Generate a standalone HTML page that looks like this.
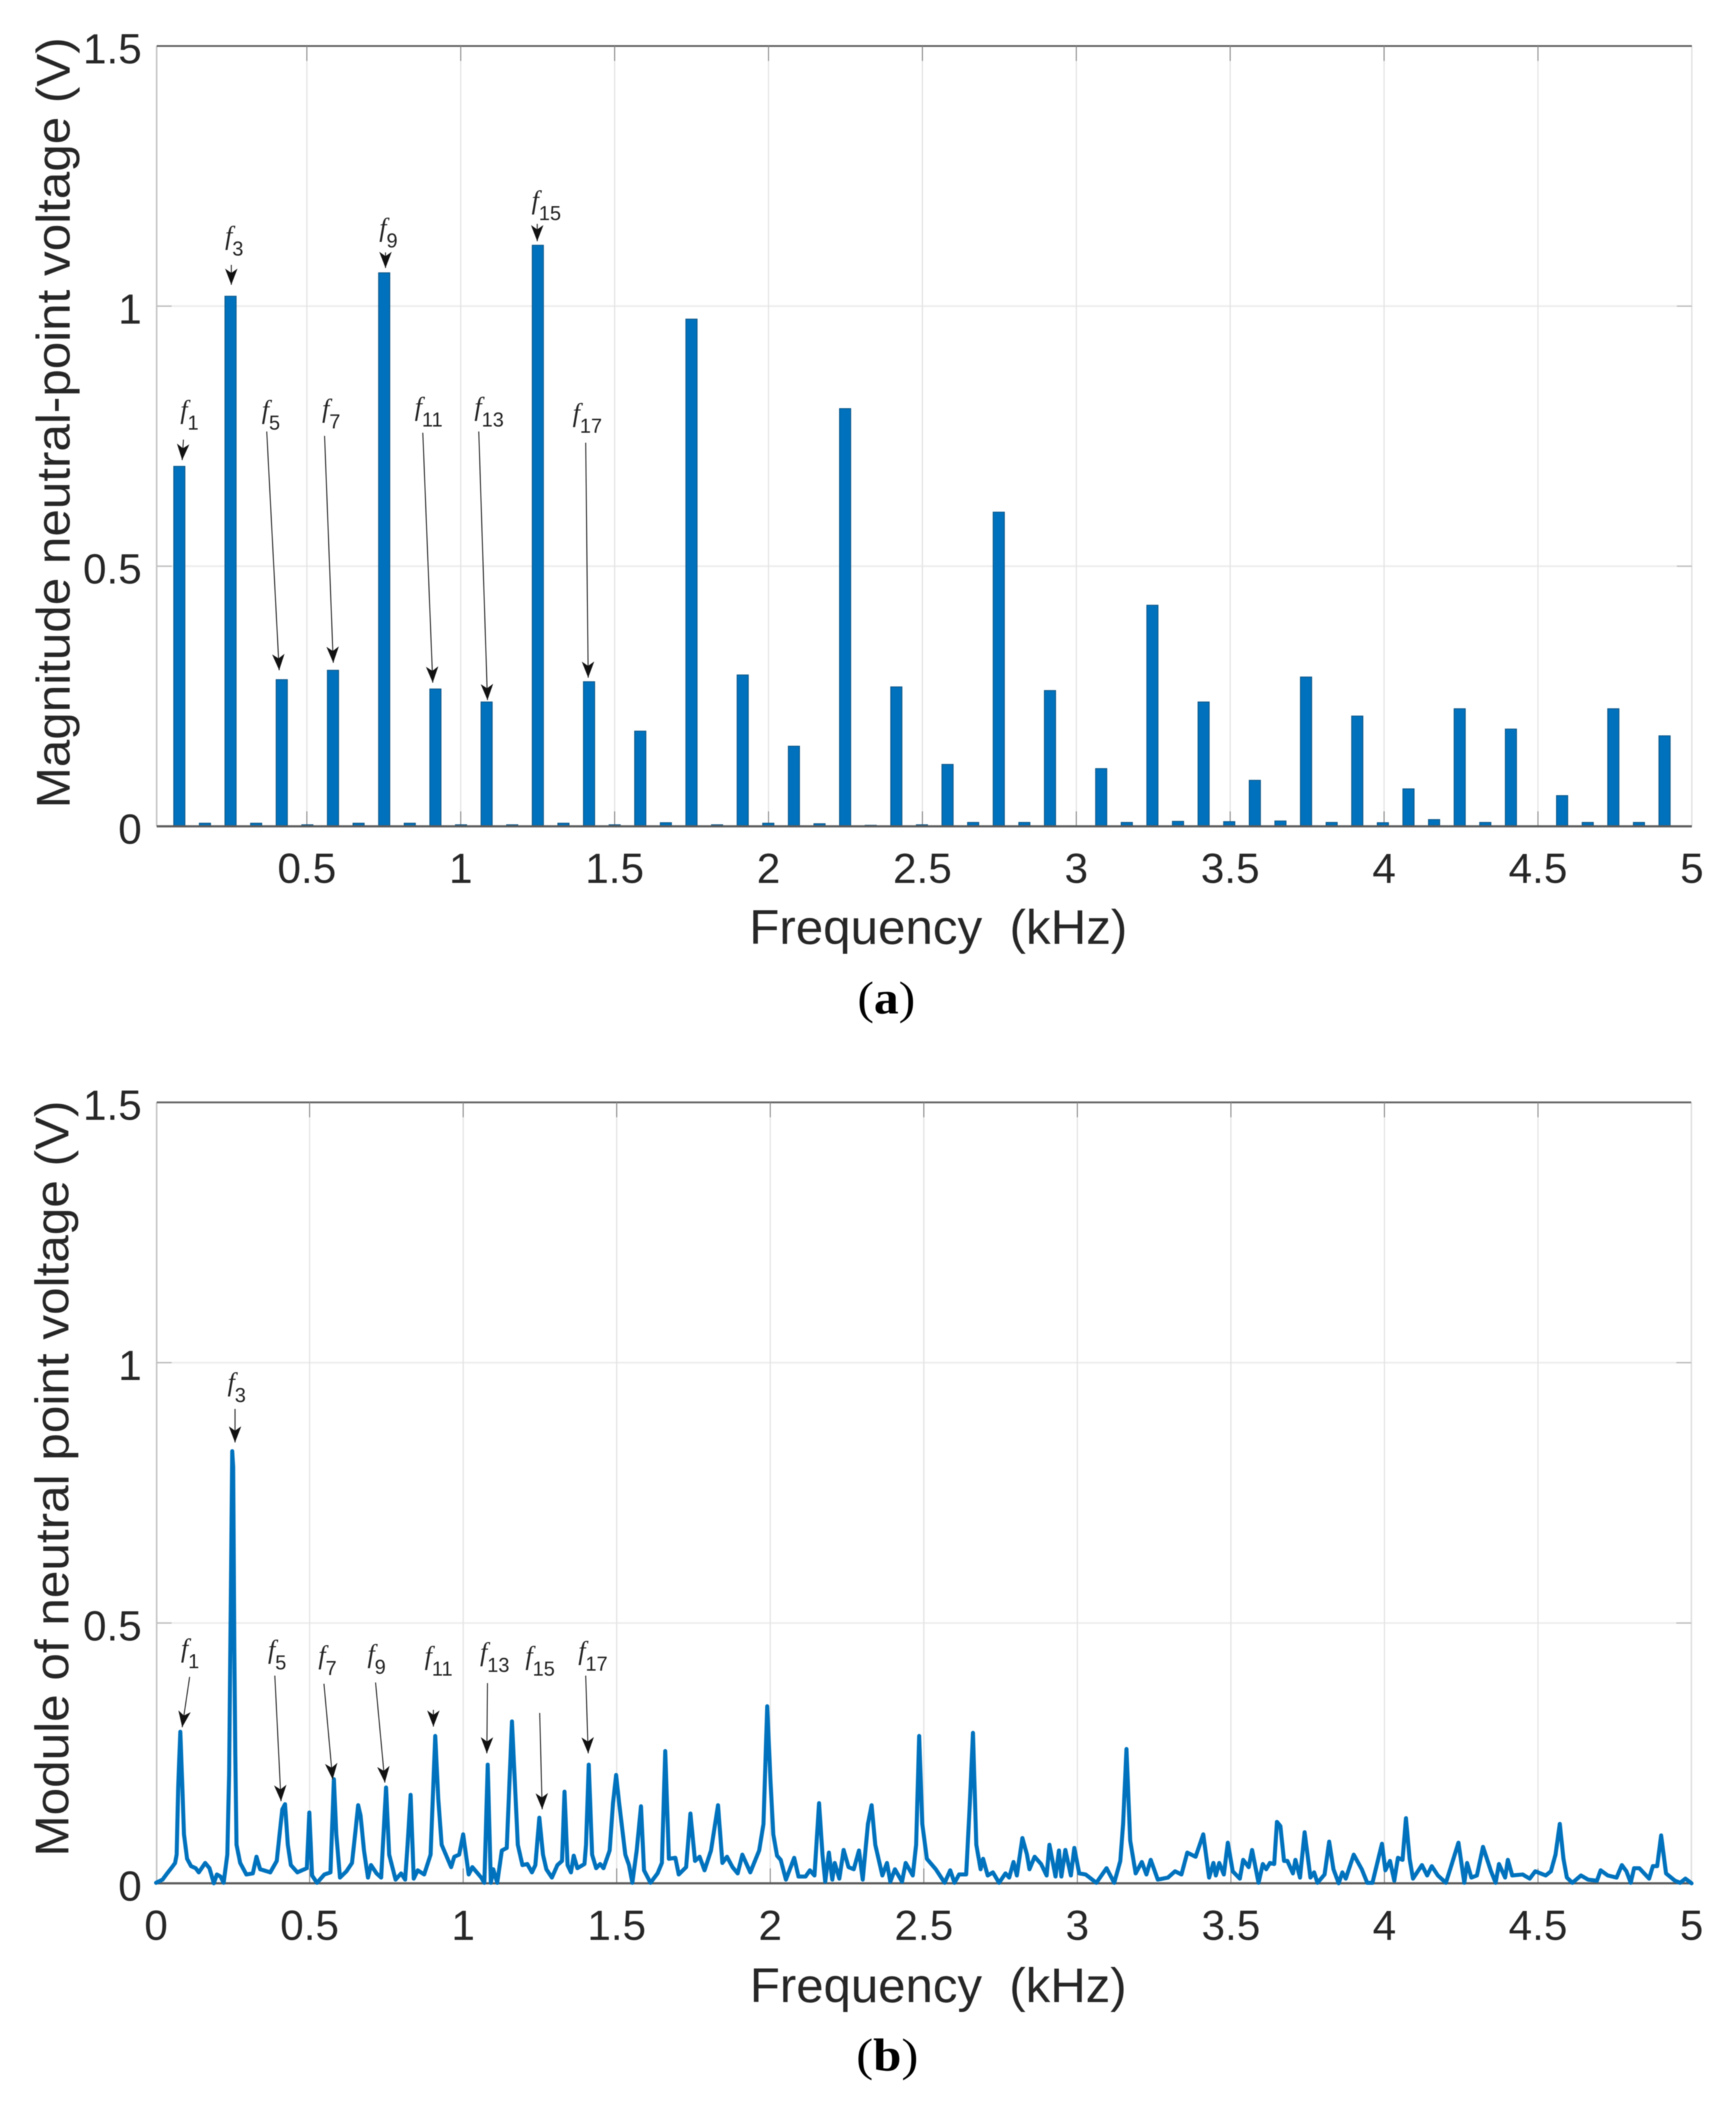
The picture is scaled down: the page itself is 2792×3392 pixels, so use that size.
<!DOCTYPE html>
<html lang="en">
<head>
<meta charset="utf-8">
<title>Neutral-point voltage spectra</title>
<style>
html,body{margin:0;padding:0;background:#fff;}
svg{display:block;filter:blur(0.7px);}
text{font-family:"Liberation Sans",sans-serif;fill:#262626;}
.ann{fill:#222;font-size:32px;}
.ann .ital{font-family:"Liberation Serif",serif;font-style:italic;font-size:42px;}
.arrow{stroke:#222;stroke-width:1.6;fill:none;}
.cap{font-family:"Liberation Serif",serif;fill:#000;font-size:74px;}
</style>
</head>
<body>
<svg id="fig" xmlns="http://www.w3.org/2000/svg" width="2792" height="3392" viewBox="0 0 2792 3392">
<defs>
<marker id="head" markerUnits="userSpaceOnUse" markerWidth="30" markerHeight="24" refX="26" refY="12" orient="auto">
<path d="M0,2 L26,12 L0,22 L7,12 Z" fill="#111"/>
</marker>
</defs>
<g id="chartA"></g>
<g id="chartB"></g>

<text transform="translate(112,680) rotate(-90)" text-anchor="middle" font-size="76" textLength="1240" lengthAdjust="spacingAndGlyphs">Magnitude neutral-point voltage (V)</text>
<text x="1509" y="1518" text-anchor="middle" font-size="78" textLength="608" lengthAdjust="spacingAndGlyphs">Frequency&#160;&#160;(kHz)</text>
<text class="cap" x="1379" y="1630" textLength="93" lengthAdjust="spacingAndGlyphs">(<tspan font-weight="bold">a</tspan>)</text>

<text transform="translate(110,2378) rotate(-90)" text-anchor="middle" font-size="76" textLength="1216" lengthAdjust="spacingAndGlyphs">Module of neutral point voltage (V)</text>
<text x="1509" y="3220" text-anchor="middle" font-size="78" textLength="606" lengthAdjust="spacingAndGlyphs">Frequency&#160;&#160;(kHz)</text>
<text class="cap" x="1377" y="3330" textLength="100" lengthAdjust="spacingAndGlyphs">(<tspan font-weight="bold">b</tspan>)</text>

<g>
<text class="ann" x="290" y="673"><tspan class="ital">f</tspan><tspan dy="18">1</tspan></text>
<line class="arrow" x1="295" y1="707" x2="293" y2="740" marker-end="url(#head)"/>
<text class="ann" x="362" y="393"><tspan class="ital">f</tspan><tspan dy="18">3</tspan></text>
<line class="arrow" x1="372" y1="426" x2="372" y2="458" marker-end="url(#head)"/>
<text class="ann" x="421" y="673"><tspan class="ital">f</tspan><tspan dy="18">5</tspan></text>
<line class="arrow" x1="429" y1="694" x2="449" y2="1078" marker-end="url(#head)"/>
<text class="ann" x="518" y="671"><tspan class="ital">f</tspan><tspan dy="18">7</tspan></text>
<line class="arrow" x1="522" y1="701" x2="536" y2="1066" marker-end="url(#head)"/>
<text class="ann" x="610" y="380"><tspan class="ital">f</tspan><tspan dy="18">9</tspan></text>
<line class="arrow" x1="620" y1="406" x2="620" y2="431" marker-end="url(#head)"/>
<text class="ann" x="667" y="668"><tspan class="ital">f</tspan><tspan dy="18">11</tspan></text>
<line class="arrow" x1="680" y1="696" x2="696" y2="1098" marker-end="url(#head)"/>
<text class="ann" x="763" y="668"><tspan class="ital">f</tspan><tspan dy="18">13</tspan></text>
<line class="arrow" x1="770" y1="694" x2="784" y2="1126" marker-end="url(#head)"/>
<text class="ann" x="855" y="336"><tspan class="ital">f</tspan><tspan dy="18">15</tspan></text>
<line class="arrow" x1="864" y1="360" x2="864" y2="388" marker-end="url(#head)"/>
<text class="ann" x="921" y="678"><tspan class="ital">f</tspan><tspan dy="18">17</tspan></text>
<line class="arrow" x1="942" y1="712" x2="946" y2="1090" marker-end="url(#head)"/>
</g>

<g>
<text class="ann" x="291" y="2665"><tspan class="ital">f</tspan><tspan dy="18">1</tspan></text>
<line class="arrow" x1="305" y1="2697" x2="293" y2="2778" marker-end="url(#head)"/>
<text class="ann" x="366" y="2237"><tspan class="ital">f</tspan><tspan dy="18">3</tspan></text>
<line class="arrow" x1="378" y1="2266" x2="378" y2="2320" marker-end="url(#head)"/>
<text class="ann" x="431" y="2667"><tspan class="ital">f</tspan><tspan dy="18">5</tspan></text>
<line class="arrow" x1="442" y1="2695" x2="452" y2="2897" marker-end="url(#head)"/>
<text class="ann" x="512" y="2676"><tspan class="ital">f</tspan><tspan dy="18">7</tspan></text>
<line class="arrow" x1="521" y1="2708" x2="535" y2="2862" marker-end="url(#head)"/>
<text class="ann" x="591" y="2674"><tspan class="ital">f</tspan><tspan dy="18">9</tspan></text>
<line class="arrow" x1="604" y1="2706" x2="619" y2="2867" marker-end="url(#head)"/>
<text class="ann" x="683" y="2677"><tspan class="ital">f</tspan><tspan dy="18">11</tspan></text>
<line class="arrow" x1="697" y1="2750" x2="697" y2="2777" marker-end="url(#head)"/>
<text class="ann" x="772" y="2671"><tspan class="ital">f</tspan><tspan dy="18">13</tspan></text>
<line class="arrow" x1="784" y1="2707" x2="783" y2="2820" marker-end="url(#head)"/>
<text class="ann" x="845" y="2677"><tspan class="ital">f</tspan><tspan dy="18">15</tspan></text>
<line class="arrow" x1="868" y1="2755" x2="872" y2="2910" marker-end="url(#head)"/>
<text class="ann" x="930" y="2669"><tspan class="ital">f</tspan><tspan dy="18">17</tspan></text>
<line class="arrow" x1="942" y1="2695" x2="946" y2="2820" marker-end="url(#head)"/>
</g>
</svg>
<script>
// Panel (a): harmonic order, spacing in kHz, magnitude in volts
const harmonicSpacingKHz = 0.0832;
const harmonicOffsetKHz = 0.0025;
const harmonicOrders = [1,2,3,4,5,6,7,8,9,10,11,12,13,14,15,16,17,18,19,20,21,22,23,24,25,26,27,28,29,30,31,32,33,34,35,36,37,38,39,40,41,42,43,44,45,46,47,48,49,50,51,52,53,54,55,56,57,58,59];
const barValues = [0.692,0.006,1.019,0.006,0.282,0.003,0.300,0.006,1.064,0.006,0.264,0.003,0.239,0.003,1.117,0.006,0.278,0.003,0.183,0.007,0.975,0.003,0.291,0.006,0.154,0.005,0.803,0.002,0.268,0.003,0.119,0.0075,0.604,0.0075,0.261,0.001,0.111,0.0075,0.425,0.0096,0.239,0.009,0.0885,0.0103,0.287,0.0075,0.212,0.007,0.072,0.013,0.226,0.0075,0.187,0.001,0.059,0.0075,0.226,0.0075,0.174];
const xTickValuesA = [0.5,1,1.5,2,2.5,3,3.5,4,4.5,5];
const xTickLabelsA = ["0.5","1","1.5","2","2.5","3","3.5","4","4.5","5"];
const yTickValues = [0,0.5,1,1.5];
const yTickLabels = ["0","0.5","1","1.5"];

// Panel (b): measured spectrum, frequency in kHz and voltage in volts
const lineFreq = [0,.021,.036,.052,.062,.067,.072,.079,.085,.091,.101,.114,.129,.139,.160,.174,.188,.198,.210,.220,.232,.238,.243,.248,.251,.255,.258,.262,.274,.294,.315,.327,.339,.372,.393,.403,.411,.420,.429,.439,.460,.491,.499,.508,.524,.548,.568,.579,.587,.599,.620,.638,.649,.658,.666,.677,.690,.700,.718,.733,.749,.759,.780,.798,.811,.819,.829,.839,.852,.873,.894,.909,.919,.930,.961,.971,.987,1.0,1.018,1.030,1.059,1.069,1.080,1.090,1.098,1.111,1.126,1.142,1.159,1.178,1.193,1.209,1.224,1.235,1.248,1.260,1.271,1.289,1.307,1.322,1.330,1.340,1.351,1.360,1.372,1.395,1.400,1.409,1.420,1.433,1.446,1.457,1.477,1.488,1.498,1.508,1.528,1.540,1.551,1.565,1.579,1.589,1.610,1.633,1.647,1.658,1.670,1.691,1.702,1.726,1.740,1.755,1.770,1.786,1.807,1.830,1.844,1.859,1.877,1.894,1.909,1.935,1.964,1.978,1.990,2.001,2.010,2.022,2.034,2.051,2.078,2.092,2.115,2.129,2.144,2.159,2.170,2.179,2.191,2.202,2.210,2.225,2.239,2.255,2.272,2.289,2.301,2.318,2.330,2.342,2.365,2.380,2.391,2.406,2.429,2.441,2.464,2.475,2.485,2.495,2.510,2.539,2.568,2.586,2.600,2.615,2.638,2.650,2.660,2.671,2.685,2.693,2.708,2.725,2.745,2.766,2.778,2.792,2.803,2.821,2.836,2.844,2.861,2.882,2.900,2.909,2.929,2.940,2.948,2.961,2.979,2.990,3.006,3.027,3.062,3.095,3.120,3.140,3.149,3.160,3.172,3.190,3.210,3.225,3.239,3.262,3.295,3.318,3.339,3.358,3.385,3.410,3.429,3.443,3.451,3.462,3.477,3.490,3.506,3.529,3.540,3.558,3.569,3.590,3.604,3.615,3.627,3.641,3.650,3.661,3.673,3.684,3.702,3.710,3.725,3.740,3.759,3.771,3.782,3.805,3.820,3.834,3.851,3.863,3.874,3.900,3.926,3.944,3.961,3.992,4.003,4.018,4.032,4.044,4.059,4.070,4.082,4.093,4.122,4.139,4.154,4.174,4.200,4.214,4.241,4.260,4.269,4.283,4.301,4.321,4.347,4.362,4.373,4.393,4.402,4.416,4.450,4.473,4.491,4.525,4.542,4.557,4.571,4.583,4.594,4.612,4.640,4.663,4.692,4.704,4.727,4.756,4.773,4.788,4.802,4.813,4.830,4.862,4.874,4.888,4.901,4.917,4.946,4.963,4.980,5.0];
const lineVolt = [.001,.007,.019,.031,.039,.055,.186,.291,.194,.094,.047,.033,.029,.021,.039,.029,0,.017,.013,.001,.055,.210,.52,.83,.80,.45,.25,.074,.039,.017,.019,.051,.027,.021,.043,.098,.142,.152,.074,.035,.021,.029,.136,.015,.001,.017,.021,.200,.094,.011,.023,.039,.098,.150,.130,.063,.011,.035,.019,.011,.184,.055,.007,.019,.007,.074,.170,.009,.025,.017,.055,.283,.162,.074,.031,.051,.055,.094,.017,.031,.011,.001,.228,.001,.027,.001,.063,.068,.311,.074,.035,.037,.021,.035,.126,.055,.027,.011,.035,.043,.176,.035,.021,.053,.029,.037,.074,.228,.055,.029,.037,.029,.063,.154,.208,.154,.055,.035,.001,.063,.148,.025,.001,.019,.039,.254,.047,.049,.017,.031,.134,.043,.051,.025,.063,.150,.039,.051,.031,.019,.055,.021,.063,.114,.340,.194,.094,.053,.045,.007,.049,.013,.013,.025,.015,.154,.055,.003,.059,.007,.039,.009,.064,.031,.027,.063,.007,.114,.150,.074,.015,.039,.003,.027,.003,.039,.015,.074,.283,.114,.047,.027,.001,.025,.001,.017,.017,.154,.289,.074,.027,.047,.015,.021,.001,.019,.011,.041,.015,.087,.055,.027,.051,.037,.015,.074,.013,.063,.013,.064,.015,.068,.019,.017,.001,.029,.001,.043,.114,.258,.082,.019,.041,.017,.045,.007,.011,.023,.017,.059,.051,.094,.011,.039,.015,.039,.017,.078,.023,.009,.045,.031,.064,.001,.037,.027,.039,.037,.118,.110,.043,.043,.019,.045,.011,.098,.011,.021,.001,.017,.080,.027,0,.021,.009,.055,.027,.001,.001,.076,.025,.043,.005,.049,.045,.125,.047,.009,.035,.015,.033,.015,.001,.027,.078,.001,.039,.011,.015,.070,.023,.001,.037,.011,.045,.015,.017,.009,.023,.015,.023,.055,.114,.047,.011,.001,.015,.007,.005,.025,.015,.011,.035,.023,.001,.029,.029,.009,.033,.033,.092,.019,.005,.001,.009,0];
const xTickValuesB = [0,0.5,1,1.5,2,2.5,3,3.5,4,4.5,5];
const xTickLabelsB = ["0","0.5","1","1.5","2","2.5","3","3.5","4","4.5","5"];

const SVG_NS = "http://www.w3.org/2000/svg";
function mk(tag, attrs, parent){
  const el = document.createElementNS(SVG_NS, tag);
  for (const k in attrs) el.setAttribute(k, attrs[k]);
  parent.appendChild(el);
  return el;
}

function drawFrame(group, box, xScale, yScale, xVals, xLabels, labelY){
  // grid
  yTickValues.forEach(function(v){
    if (v === 0 || v === 1.5) return;
    const g = mk("line",{x1:box.l,x2:box.r,y1:yScale(v),y2:yScale(v),stroke:"#eeeeee","stroke-width":3},group);
    
    
  });
  xVals.forEach(function(v){
    if (v === 0) return;
    const g = mk("line",{x1:xScale(v),x2:xScale(v),y1:box.t,y2:box.b,stroke:"#e4e4e4","stroke-width":2},group);
    
    
  });
  // axis box
  const left = mk("line",{x1:box.l,x2:box.l,y1:box.t,y2:box.b,stroke:"#c4c4c4","stroke-width":2.5},group);
  
  
  const right = mk("line",{x1:box.r,x2:box.r,y1:box.t,y2:box.b,stroke:"#e0e0e0","stroke-width":2},group);
  
  
  const top = mk("line",{x1:box.l,x2:box.r,y1:box.t,y2:box.t,stroke:"#666666","stroke-width":3},group);
  
  
  // ticks
  xVals.forEach(function(v){
    if (v === 0 || v === 5) return;
    const a = mk("line",{x1:xScale(v),x2:xScale(v),y1:box.t,y2:box.t+24,stroke:"#8a8a8a","stroke-width":1.6},group);
    
    
    const b = mk("line",{x1:xScale(v),x2:xScale(v),y1:box.b-24,y2:box.b,stroke:"#8a8a8a","stroke-width":1.6},group);
    
    
  });
  yTickValues.forEach(function(v){
    if (v === 0 || v === 1.5) return;
    const a = mk("line",{x1:box.l,x2:box.l+24,y1:yScale(v),y2:yScale(v),stroke:"#bbbbbb","stroke-width":2},group);
    
    
    const b = mk("line",{x1:box.r-24,x2:box.r,y1:yScale(v),y2:yScale(v),stroke:"#bbbbbb","stroke-width":2},group);
    
    
  });
  // tick labels
  xVals.forEach(function(v,i){
    const t = mk("text",{x:xScale(v),y:labelY,"text-anchor":"middle","font-size":68},group);
    t.textContent = xLabels[i];
    
    
  });
  yTickValues.forEach(function(v,i){
    const t = mk("text",{x:box.l-24,y:yScale(v)+28,"text-anchor":"end","font-size":68},group);
    t.textContent = yTickLabels[i];
    
    
  });
}

function drawBottomAxis(group, box){
  const bottom = mk("line",{x1:box.l,x2:box.r,y1:box.b,y2:box.b,stroke:"#5a5a5a","stroke-width":3.5},group);
  
  
}

// Panel (a)
const gA = document.getElementById("chartA");
const boxA = {l:252,r:2721,t:74,b:1329};
const xA = function(f){ return 246 + f*495; };
const yA = function(v){ return boxA.b - v*(boxA.b-boxA.t)/1.5; };
drawFrame(gA, boxA, xA, yA, xTickValuesA, xTickLabelsA, 1420);
harmonicOrders.forEach(function(k,i){
  const cx = xA(harmonicOffsetKHz + k*harmonicSpacingKHz);
  const y = yA(barValues[i]);
  const bar = mk("rect",{x:cx-9,y:y,width:18,height:boxA.b-y,fill:"#0072BD",stroke:"#0d5687","stroke-width":1.4},gA);
  
  
});
drawBottomAxis(gA, boxA);

// Panel (b)
const gB = document.getElementById("chartB");
const boxB = {l:252,r:2720,t:1773,b:3029};
const xB = function(f){ return 251 + f*493.9; };
const yB = function(v){ return boxB.b - v*(boxB.b-boxB.t)/1.5; };
drawFrame(gB, boxB, xB, yB, xTickValuesB, xTickLabelsB, 3120);
drawBottomAxis(gB, boxB);
const pts = lineFreq.map(function(f,i){ return xB(f).toFixed(1)+","+yB(lineVolt[i]).toFixed(1); }).join(" ");
const series = mk("polyline",{points:pts,fill:"none",stroke:"#0072BD","stroke-width":6.5,"stroke-linejoin":"round","stroke-linecap":"round"},gB);


</script>
</body>
</html>
